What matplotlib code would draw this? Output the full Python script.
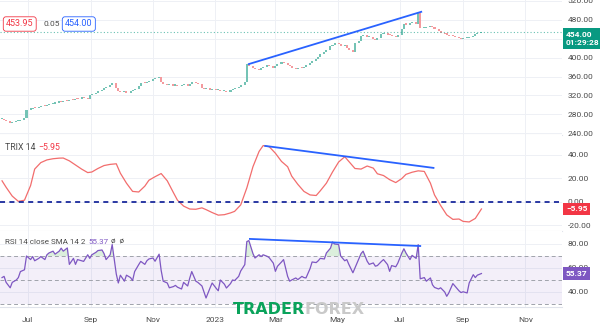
import numpy as np
import pandas as pd
import matplotlib
matplotlib.use('Agg')
import matplotlib.pyplot as plt
import matplotlib.transforms as mtransforms

plt.rcParams['font.family'] = ['Roboto', 'DejaVu Sans']

# daily-ish closes (one value every 2 trading days)
close = [
    270, 268, 265, 262, 264, 265, 266, 268, 272, 290,
    292, 294, 293, 296, 298, 297, 300, 302, 303, 305,
    307, 306, 309, 308, 311, 310, 313, 312, 316, 314,
    312, 320, 323, 325, 329, 331, 335, 339, 342, 346,
    335, 330, 327, 329, 326, 330, 332, 333, 341, 347,
    346, 349, 351, 354, 356, 359, 348, 344, 342, 343,
    341, 343, 340, 342, 344, 341, 345, 347, 346, 344,
    336, 333, 335, 331, 333, 331, 332, 329, 330, 328,
    331, 333, 336, 339, 342, 348, 386, 382, 378, 376,
    374, 378, 381, 385, 383, 379, 382, 386, 391, 389,
    385, 382, 378, 376, 379, 378, 381, 384, 388, 392,
    398, 402, 407, 411, 416, 424, 427, 430, 428, 425,
    427, 420, 416, 412, 430, 436, 445, 448, 443, 444,
    440, 437, 442, 450, 452, 448, 447, 446, 444, 447,
    460, 472, 470, 473, 474, 472, 494, 462, 463, 465,
    466, 464, 460, 457, 452, 450, 449, 446, 445, 444,
    441, 439, 441, 442, 443, 446, 450, 452, 454,
]

# TRIX 14 (one value every 4 trading days)
trix = [
    18, 12.5, 5, 0.5, 1.5, 14, 28, 33.5, 35.8, 36.8,
    37.3, 37.4, 35, 31.5, 28, 25, 25.5, 28.5, 31, 32,
    32.5, 24.5, 16, 9, 8.5, 13.5, 18.5, 21.5, 24.2, 18,
    8, 1.5, -3.5, -6, -6.2, -5, -6.5, -9, -11.2, -10.8,
    -9.3, -8, -2.5, 12, 30, 43, 48, 47, 41.5, 34.5,
    30, 22, 15, 9, 6, 5.5, 9.5, 16, 25.5, 34,
    38.5, 34.5, 28.5, 28, 30.6, 28.8, 24, 22.5, 19, 16.5,
    20, 23.5, 25.3, 26.5, 26, 16, 6, -3, -11, -14.8,
    -14.5, -16.5, -17, -14, -5.95,
]

# RSI 14 (same spacing as the closes)
rsi = [
    52, 53, 48, 43.5, 48, 50, 52, 57, 58.5, 70,
    67, 69.5, 66, 68, 69.5, 67, 71, 72.5, 74, 71.5,
    74, 76.5, 74, 76.7, 63, 68, 63, 67, 66, 65.5,
    71, 68, 71, 73, 74.5, 75, 72, 67, 71, 79.5,
    55, 47.5, 54, 49, 54, 52, 49.5, 57, 62.8, 65.5,
    63, 66, 67.5, 68.3, 65.6, 71.5, 58, 49, 47.5, 43.5,
    44.5, 45.5, 44, 42.5, 48, 45, 51.5, 57, 49, 48,
    45, 40, 35, 43.5, 47.5, 43, 41, 50, 46.5, 43.3,
    47, 50, 49.5, 53, 57.5, 62.8, 82, 82.8, 72, 68.3,
    71, 69.5, 71, 69.7, 68.5, 64, 57.2, 61.4, 65, 67,
    53, 49, 50, 51.7, 50.3, 53, 52, 51.7, 59.5, 65,
    64.5, 66, 68, 67.5, 72.5, 76.5, 81.7, 80, 79.5, 70,
    66, 67, 63, 56, 60, 68, 72, 74, 65.6, 63,
    64.2, 61.5, 62, 65.5, 67, 62.8, 57.2, 62, 61, 64,
    72.5, 76, 72.5, 67, 70.5, 68, 79.5, 51, 52, 49,
    51.7, 46, 43.8, 42.5, 43.5, 40, 36.4, 39.2, 47, 45,
    41, 39.5, 40.2, 39.2, 47.5, 54.4, 52, 54, 55.37,
]

start_date = '2022-06-06'
tick_dates = ['2022-07-01', '2022-09-01', '2022-11-01', '2023-01-01', '2023-03-01',
              '2023-05-01', '2023-07-01', '2023-09-01', '2023-11-01']
tick_labels = ['Jul', 'Sep', 'Nov', '2023', 'Mar', 'May', 'Jul', 'Sep', 'Nov']
price_ticks = [240, 280, 320, 360, 400, 440, 480, 520]
price_tick_labels = ['240.00', '280.00', '320.00', '360.00', '400.00', '', '480.00', '520.00']

# divergence lines drawn on the chart
price_trend_dates = ['2023-02-03', '2023-07-22']
price_trend_vals = [386.5, 497]
trix_trend_dates = ['2023-02-19', '2023-08-03']
trix_trend_vals = [47.7, 29]
rsi_trend_dates = ['2023-02-04', '2023-07-21']
rsi_trend_vals = [84.2, 78.3]

close = np.array(close, dtype=float)
trix = np.array(trix)
rsi = np.array(rsi)
dates = pd.bdate_range(start_date, periods=len(close), freq='2B')
trix_dates = dates[::2]
tick_dates = pd.to_datetime(tick_dates)

grid_c = '#eef0f5'
lab_c = '#4a4a4a'
W, H = 600, 329

fig = plt.figure(figsize=(6, 3.29), dpi=100)
fig.patch.set_facecolor('white')


def pane(top, bottom):
    return fig.add_axes([0, (H - bottom) / H, 562 / W, (bottom - top) / H])


ax1 = pane(0, 135)
ax2 = pane(135, 231)
ax3 = pane(231, 307)

for ax in (ax1, ax2, ax3):
    ax.set_xlim(pd.Timestamp('2022-06-04'), pd.Timestamp('2023-12-07'))
    ax.set_xticks(tick_dates)
    ax.grid(True, color=grid_c, lw=0.7)
    ax.set_axisbelow(True)
    ax.yaxis.tick_right()
    ax.tick_params(axis='y', length=0, pad=4, labelsize=6, labelcolor=lab_c)
    ax.tick_params(axis='x', length=0)
    for s in ('top', 'left', 'right'):
        ax.spines[s].set_visible(False)
    ax.spines['bottom'].set_color('#e0e3eb')
    ax.spines['bottom'].set_linewidth(0.8)
    ax.yaxis.set_major_formatter(matplotlib.ticker.FormatStrFormatter('%.2f'))

ax1.set_xticklabels([])
ax2.set_xticklabels([])
ax3.set_xticklabels(tick_labels)
ax3.tick_params(axis='x', labelsize=6, labelcolor=lab_c, pad=7.5)

# ---- price pane
opens = np.r_[close[0], close[:-1]]
up = close >= opens
body = np.maximum(np.abs(close - opens), 2.5)
low = np.minimum(opens, close)
ax1.bar(dates[up], body[up], bottom=low[up], width=2.0, color='#74c3b5', lw=0)
ax1.bar(dates[~up], body[~up], bottom=low[~up], width=2.0, color='#f49a9e', lw=0)
ax1.axhline(close[-1], color='#089981', ls=(0, (1, 2)), lw=0.8, alpha=0.6)
ax1.plot(pd.to_datetime(price_trend_dates), price_trend_vals, color='#2962ff', lw=1.3)
ax1.set_ylim(236.4, 522)
ax1.set_yticks(price_ticks)
ax1.set_yticklabels(price_tick_labels)

# ---- TRIX pane
ax2.plot(trix_dates, trix, color='#f26d6d', lw=0.9)
ax2.axhline(0, color='#1a2a9c', ls=(0, (2.8, 2.4)), lw=1.3)
ax2.plot(pd.to_datetime(trix_trend_dates), trix_trend_vals, color='#2962ff', lw=1.3)
ax2.set_ylim(-24.7, 57)
ax2.set_yticks([-20, 0, 20, 40])

# ---- RSI pane
ax3.axhspan(30, 70, color='#7e57c2', alpha=0.09, lw=0)
for lvl in (70, 50, 30):
    ax3.axhline(lvl, color='#a0a3ab', ls=(0, (4, 3)), lw=0.7)
ax3.fill_between(dates, 70, rsi, where=rsi > 70, interpolate=True, color='#4caf50', alpha=0.2, lw=0)
ax3.plot(dates, rsi, color='#7e57c2', lw=0.9)
ax3.plot(pd.to_datetime(rsi_trend_dates), rsi_trend_vals, color='#2962ff', lw=1.3)
ax3.set_ylim(27.5, 90.8)
ax3.set_yticks([40, 60, 80])


# ---- value tags on the right scale
def value_tag(ax, y, text, color, offset=0):
    tr = mtransforms.blended_transform_factory(ax.transAxes, ax.transData)
    ax.annotate(text, xy=(1.0, y), xycoords=tr, xytext=(4, offset), textcoords='offset pixels',
                ha='left', va='center', fontsize=6, color='white', fontweight='bold',
                bbox=dict(boxstyle='square,pad=0.35', fc=color, ec='none'),
                annotation_clip=False, zorder=10)


value_tag(ax1, close[-1], '454.00\n01:29:28', '#089981', offset=-6)
value_tag(ax2, trix[-1], '\u22125.95', '#f23645')
value_tag(ax3, rsi[-1], '55.37', '#7e57c2')

# ---- legends top-left
ax1.text(6 / 562, 1 - 24 / 135, '453.95', transform=ax1.transAxes, fontsize=6.5, color='#f23645',
         va='center', bbox=dict(boxstyle='round,pad=0.3,rounding_size=0.3', fc='white', ec='#f23645', lw=0.6))
ax1.text(44 / 562, 1 - 24 / 135, '0.05', transform=ax1.transAxes, fontsize=6, color=lab_c, va='center')
ax1.text(65 / 562, 1 - 24 / 135, '454.00', transform=ax1.transAxes, fontsize=6.5, color='#2962ff',
         va='center', bbox=dict(boxstyle='round,pad=0.3,rounding_size=0.3', fc='white', ec='#2962ff', lw=0.6))

ax2.text(5 / 562, (231 - 147) / 96, 'TRIX 14', transform=ax2.transAxes, fontsize=6.3, color=lab_c, va='center')
ax2.text(38 / 562, (231 - 147) / 96, '\u22125.95', transform=ax2.transAxes, fontsize=6.3, color='#f23645', va='center')

ax3.text(5 / 562, (307 - 242) / 76, 'RSI 14 close SMA 14 2', transform=ax3.transAxes, fontsize=5.8,
         color=lab_c, va='center')
ax3.text(88 / 562, (307 - 242) / 76, '55.37', transform=ax3.transAxes, fontsize=5.8, color='#7e57c2', va='center')
ax3.text(111 / 562, (307 - 242) / 76, '\u00f8  \u00f8', transform=ax3.transAxes, fontsize=5.8, color=lab_c,
         va='center')

# ---- watermark
fig.text(233 / W, (H - 314.5) / H, 'TRADER', fontsize=11.5, fontweight='heavy', color='#0aa35b',
         family='DejaVu Sans', va='baseline')
fig.text(304 / W, (H - 314.5) / H, 'FOREX', fontsize=11.5, fontweight='heavy', color='#c9c9c9',
         family='DejaVu Sans', va='baseline')

fig.savefig('out.png', dpi=100)
